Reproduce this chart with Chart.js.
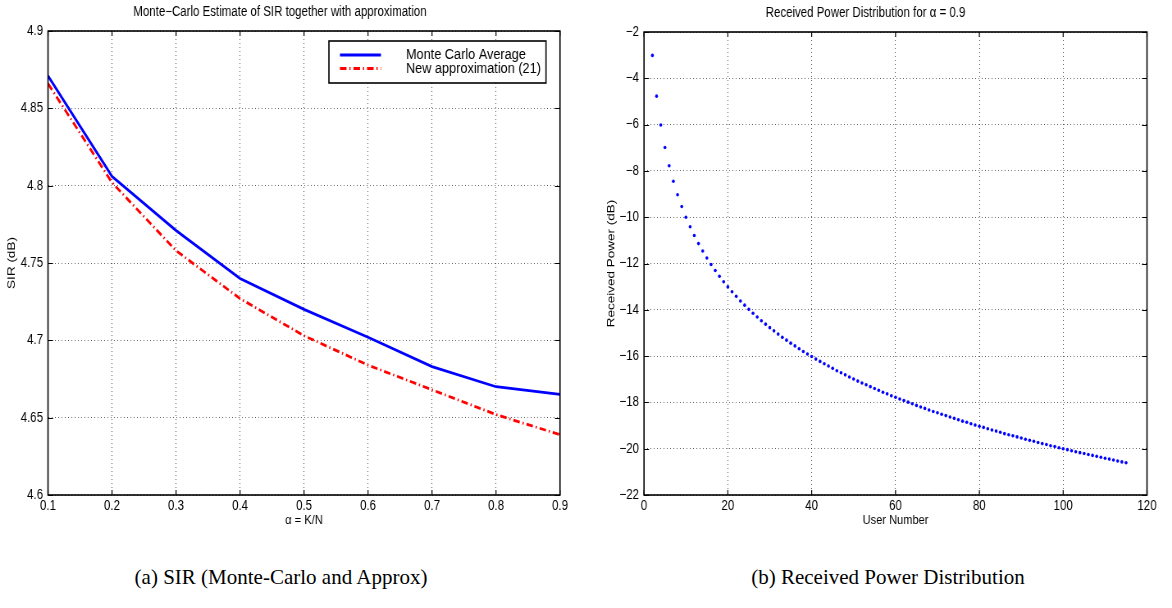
<!DOCTYPE html>
<html>
<head>
<meta charset="utf-8">
<script src="https://cdn.jsdelivr.net/npm/chart.js@4.4.0/dist/chart.umd.min.js"></script>
<style>
  body { margin: 0; background: #fff; }
  #page { position: relative; width: 1172px; height: 608px; background: #fff; }
  canvas { position: absolute; top: 0; }
  .caption {
    position: absolute; top: 565px; height: 24px; line-height: 24px;
    font-family: 'Liberation Serif', 'Times New Roman', serif; font-size: 21px;
    color: #000; text-align: center; white-space: nowrap;
  }
</style>
</head>
<body>
<div id="page">
  <canvas id="sirChart"></canvas>
  <canvas id="powerChart"></canvas>
  <div class="caption" style="left:0;width:562px">(a) SIR (Monte-Carlo and Approx)</div>
  <div class="caption" style="left:604px;width:568px">(b) Received Power Distribution</div>
</div>
<script>
// (a) SIR versus load alpha = K/N
const alphaValues = [0.1, 0.2, 0.3, 0.4, 0.5, 0.6, 0.7, 0.8, 0.9];
const monteCarloSir = [4.871, 4.806, 4.771, 4.740, 4.720, 4.702, 4.683, 4.670, 4.665];
const approxSir = [4.866, 4.802, 4.758, 4.727, 4.703, 4.684, 4.668, 4.652, 4.639];

// (b) received power per user, alpha = 0.9
const userNumbers = [
    2, 3, 4, 5, 6, 7, 8, 9, 10, 11, 12, 13, 14, 15, 16, 17, 18, 19, 20, 21,
    22, 23, 24, 25, 26, 27, 28, 29, 30, 31, 32, 33, 34, 35, 36, 37, 38, 39, 40, 41,
    42, 43, 44, 45, 46, 47, 48, 49, 50, 51, 52, 53, 54, 55, 56, 57, 58, 59, 60, 61,
    62, 63, 64, 65, 66, 67, 68, 69, 70, 71, 72, 73, 74, 75, 76, 77, 78, 79, 80, 81,
    82, 83, 84, 85, 86, 87, 88, 89, 90, 91, 92, 93, 94, 95, 96, 97, 98, 99, 100, 101,
    102, 103, 104, 105, 106, 107, 108, 109, 110, 111, 112, 113, 114, 115
];
const receivedPowerDb = [
    -3.01, -4.77, -6.02, -6.99, -7.78, -8.45, -9.03, -9.54, -10.00, -10.41,
    -10.79, -11.14, -11.46, -11.76, -12.04, -12.30, -12.55, -12.79, -13.01, -13.22,
    -13.42, -13.62, -13.80, -13.98, -14.15, -14.31, -14.47, -14.62, -14.77, -14.91,
    -15.05, -15.19, -15.31, -15.44, -15.56, -15.68, -15.80, -15.91, -16.02, -16.13,
    -16.23, -16.33, -16.43, -16.53, -16.63, -16.72, -16.81, -16.90, -16.99, -17.08,
    -17.16, -17.24, -17.32, -17.40, -17.48, -17.56, -17.63, -17.71, -17.78, -17.85,
    -17.92, -17.99, -18.06, -18.13, -18.20, -18.26, -18.33, -18.39, -18.45, -18.51,
    -18.57, -18.63, -18.69, -18.75, -18.81, -18.86, -18.92, -18.98, -19.03, -19.08,
    -19.14, -19.19, -19.24, -19.29, -19.35, -19.40, -19.44, -19.49, -19.54, -19.59,
    -19.64, -19.68, -19.73, -19.78, -19.82, -19.87, -19.91, -19.96, -20.00, -20.04,
    -20.09, -20.13, -20.17, -20.21, -20.25, -20.29, -20.33, -20.37, -20.41, -20.45,
    -20.49, -20.53, -20.57, -20.61
];

// The figure is squeezed horizontally (Helvetica ends up looking like Helvetica Narrow),
// so each canvas is rendered wider and shrunk back with CSS. SX converts screen px to canvas px.
const SX = 0.82;
const px = v => v / SX;

const FONT = "'Liberation Sans', Arial, Helvetica, sans-serif";
Chart.defaults.font.family = FONT;
Chart.defaults.font.size = 14;
Chart.defaults.color = '#000';

function setupCanvas(id, left, width, height) {
    const c = document.getElementById(id);
    c.width = Math.round(px(width));
    c.height = height;
    c.style.left = left + 'px';
    c.style.width = width + 'px';
    c.style.height = height + 'px';
    return c;
}

const minus = v => String(v).replace('-', '\u2212');
const trimmed = digits => v => String(Number(v.toFixed(digits)));

// boxed axes with inward tick marks on all four sides
const boxedAxes = {
    id: 'boxedAxes',
    afterDatasetsDraw(chart) {
        const { ctx, chartArea: a, scales: { x, y } } = chart;
        const len = 5;
        ctx.save();
        ctx.strokeStyle = '#000';
        ctx.lineWidth = 1.2;
        ctx.beginPath();
        x.ticks.forEach(t => {
            const p = x.getPixelForValue(t.value);
            ctx.moveTo(p, a.bottom); ctx.lineTo(p, a.bottom - len);
            ctx.moveTo(p, a.top); ctx.lineTo(p, a.top + len);
        });
        y.ticks.forEach(t => {
            const p = Math.round(y.getPixelForValue(t.value)) + 0.5;
            ctx.moveTo(a.left, p); ctx.lineTo(a.left + px(len), p);
            ctx.moveTo(a.right, p); ctx.lineTo(a.right - px(len), p);
        });
        ctx.stroke();
        ctx.lineWidth = 1.6;
        ctx.strokeRect(a.left, a.top, a.right - a.left, a.bottom - a.top);
        ctx.restore();
    }
};

// legend box drawn inside the plot, top right corner
const insetLegend = {
    id: 'insetLegend',
    afterDraw(chart, args, opts) {
        if (!opts.show) return;
        const { ctx, chartArea: a } = chart;
        const w = px(opts.width);
        const bx = a.right - px(opts.right) - w;
        const by = a.top + opts.top;
        ctx.save();
        ctx.fillStyle = '#fff';
        ctx.fillRect(bx, by, w, opts.height);
        ctx.strokeStyle = '#000';
        ctx.lineWidth = 1.6;
        ctx.strokeRect(bx, by, w, opts.height);
        ctx.font = '15.5px ' + FONT;
        ctx.textBaseline = 'middle';
        chart.data.datasets.forEach((ds, i) => {
            const ly = by + 14 + i * 13.5;
            ctx.strokeStyle = ds.borderColor;
            ctx.lineWidth = ds.borderWidth;
            ctx.setLineDash(ds.borderDash || []);
            ctx.beginPath();
            ctx.moveTo(bx + px(11), ly);
            ctx.lineTo(bx + px(52), ly);
            ctx.stroke();
            ctx.setLineDash([]);
            ctx.fillStyle = '#000';
            ctx.fillText(ds.label, bx + px(77), ly);
        });
        ctx.restore();
    }
};

function gridOpts() {
    return { color: 'rgba(0,0,0,0.65)', lineWidth: 1, drawTicks: false };
}

function axisTitle(text, padding) {
    return { display: true, text: text, font: { size: 13.5 }, padding: padding };
}

new Chart(setupCanvas('sirChart', 0, 584, 540), {
    type: 'line',
    data: {
        labels: alphaValues,
        datasets: [
            {
                label: 'Monte Carlo Average',
                data: alphaValues.map((a, i) => ({ x: a, y: monteCarloSir[i] })),
                borderColor: '#0000ff',
                borderWidth: 2.8,
                pointRadius: 0,
                tension: 0
            },
            {
                label: 'New approximation (21)',
                data: alphaValues.map((a, i) => ({ x: a, y: approxSir[i] })),
                borderColor: '#ff0000',
                borderWidth: 2.8,
                borderDash: [8, 3.5, 1.5, 3.5],
                pointRadius: 0,
                tension: 0
            }
        ]
    },
    options: {
        responsive: false,
        animation: false,
        layout: { padding: { left: 0, right: px(24), top: 0, bottom: 0 } },
        scales: {
            x: {
                type: 'linear',
                min: 0.1, max: 0.9,
                ticks: { stepSize: 0.1, padding: 3, maxRotation: 0, callback: trimmed(1) },
                grid: gridOpts(),
                border: { display: false, dash: [1, 3] },
                title: axisTitle('\u03b1 = K/N', { top: 0, bottom: 12 }),
                afterFit: s => { s.height = 45; }
            },
            y: {
                min: 4.6, max: 4.9,
                ticks: { stepSize: 0.05, padding: px(5), callback: trimmed(2) },
                grid: gridOpts(),
                border: { display: false, dash: [1, 3] },
                title: axisTitle('SIR (dB)', { top: px(5), bottom: 0 }),
                afterFit: s => { s.width = px(48); }
            }
        },
        plugins: {
            legend: { display: false },
            tooltip: { enabled: false },
            title: {
                display: true,
                text: 'Monte\u2212Carlo Estimate of SIR together with approximation',
                font: { size: 14, weight: 'normal' },
                padding: { top: 4, bottom: 10.2 }
            },
            insetLegend: { show: true, width: 217, height: 42, right: 14, top: 10 }
        }
    },
    plugins: [boxedAxes, insetLegend]
});

new Chart(setupCanvas('powerChart', 584, 588, 540), {
    type: 'scatter',
    data: {
        datasets: [{
            label: 'Received Power',
            data: userNumbers.map((u, i) => ({ x: u, y: receivedPowerDb[i] })),
            backgroundColor: '#0000ff',
            borderWidth: 0,
            pointRadius: 1.8
        }]
    },
    options: {
        responsive: false,
        animation: false,
        layout: { padding: { left: 0, right: px(25), top: 0, bottom: 0 } },
        scales: {
            x: {
                type: 'linear',
                min: 0, max: 120,
                ticks: { stepSize: 20, padding: 3, maxRotation: 0 },
                grid: gridOpts(),
                border: { display: false, dash: [1, 3] },
                title: axisTitle('User Number', { top: 0, bottom: 12 }),
                afterFit: s => { s.height = 45; }
            },
            y: {
                min: -22, max: -2,
                ticks: { stepSize: 2, padding: px(5), callback: minus },
                grid: gridOpts(),
                border: { display: false, dash: [1, 3] },
                title: axisTitle('Received Power (dB)', { top: px(21), bottom: 0 }),
                afterFit: s => { s.width = px(60); }
            }
        },
        plugins: {
            legend: { display: false },
            tooltip: { enabled: false },
            title: {
                display: true,
                text: 'Received Power Distribution for \u03b1 = 0.9',
                font: { size: 14, weight: 'normal' },
                padding: { top: 5, bottom: 10.2 }
            }
        }
    },
    plugins: [boxedAxes]
});
</script>
</body>
</html>
